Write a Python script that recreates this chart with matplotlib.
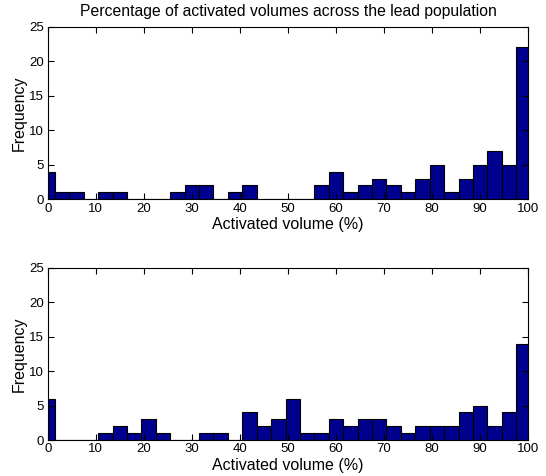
import numpy as np
import matplotlib.pyplot as plt

plt.rcParams["font.family"] = ["Liberation Sans", "DejaVu Sans"]

# histogram bin centres (% activated volume) and counts per bin
bin_centers = [0, 3, 6, 9, 12, 15, 18, 21, 24, 27, 30, 33, 36, 39, 42, 45, 48,
               51, 54, 57, 60, 63, 66, 69, 72, 75, 78, 81, 84, 87, 90, 93, 96, 99]
counts_top = [4, 1, 1, 0, 1, 1, 0, 0, 0, 1, 2, 2, 0, 1, 2, 0, 0,
              0, 0, 2, 4, 1, 2, 3, 2, 1, 3, 5, 1, 3, 5, 7, 5, 22]
counts_bottom = [6, 0, 0, 0, 1, 2, 1, 3, 1, 0, 0, 1, 1, 0, 4, 2, 3,
                 6, 1, 1, 3, 2, 3, 3, 2, 1, 2, 2, 2, 4, 5, 2, 4, 14]

x_ticks = [0, 10, 20, 30, 40, 50, 60, 70, 80, 90, 100]
y_ticks = [0, 5, 10, 15, 20, 25]

fig = plt.figure(figsize=(5.46, 4.76), dpi=100)
ax1 = fig.add_axes([0.0874, 0.5813, 0.880, 0.3626])
ax2 = fig.add_axes([0.0874, 0.0756, 0.880, 0.362])

for ax, counts in [(ax1, counts_top), (ax2, counts_bottom)]:
    ax.bar(bin_centers, counts, width=3, color="#00008f", edgecolor="black",
           linewidth=0.8, align="center")
    ax.set_xlim(0, 100)
    ax.set_ylim(0, 25)
    ax.set_xticks(x_ticks)
    ax.set_yticks(y_ticks)
    ax.tick_params(direction="in", top=True, right=True, length=4.5,
                   width=0.8, labelsize=9.5, pad=2.5)
    ax.set_xlabel("Activated volume (%)", fontsize=11.5, labelpad=1.5)
    ax.set_ylabel("Frequency", fontsize=11.5, labelpad=2)
    for s in ax.spines.values():
        s.set_linewidth(0.8)

ax1.set_title("Percentage of activated volumes across the lead population",
              fontsize=11.3, pad=8)

fig.savefig("out.png", dpi=100)
